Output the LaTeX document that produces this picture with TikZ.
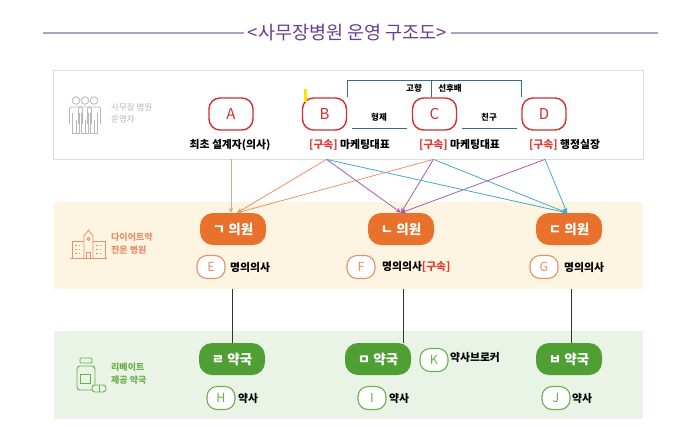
\documentclass[tikz,border=0pt]{standalone}
\usepackage{fontspec}
\setmainfont{Noto Sans CJK KR}
\usetikzlibrary{arrows.meta}

\definecolor{titlepurple}{HTML}{6B3C8F}
\definecolor{titleline}{HTML}{A7A3C9}
\definecolor{memberred}{HTML}{D42F2F}
\definecolor{bondred}{HTML}{E53935}
\definecolor{boxgray}{HTML}{DCDCDC}
\definecolor{icongray}{HTML}{B8B8B8}
\definecolor{tieblue}{HTML}{2F6F8F}
\definecolor{clinicband}{HTML}{FEF4E2}
\definecolor{clinicorange}{HTML}{E8712B}
\definecolor{clinicsoft}{HTML}{E2926A}
\definecolor{pharmband}{HTML}{EAF4E6}
\definecolor{pharmgreen}{HTML}{4F9F35}
\definecolor{pharmsoft}{HTML}{6AB04C}
\definecolor{feedtan}{HTML}{D9A886}
\definecolor{feedorange}{HTML}{E8946A}
\definecolor{feedpurple}{HTML}{A55BB5}
\definecolor{feedblue}{HTML}{3FA9D3}

\begin{document}
\begin{tikzpicture}[x=1pt,y=-1pt,
  member/.style={draw=memberred, line width=1.4pt, fill=white, rounded corners=11pt,
    minimum width=44pt, minimum height=32pt, inner sep=0pt, text=memberred,
    font=\fontsize{15}{15}\selectfont},
  role/.style={inner sep=2pt, font=\bfseries\fontsize{10.8}{10.8}\selectfont},
  tielab/.style={inner sep=1pt, font=\bfseries\fontsize{8.5}{8.5}\selectfont},
  tie/.style={draw=tieblue, line width=1pt},
  clinic/.style={fill=clinicorange, rounded corners=13pt, minimum width=66pt,
    minimum height=32pt, inner sep=0pt, text=white,
    font=\bfseries\fontsize{13.5}{13.5}\selectfont},
  pharm/.style={clinic, fill=pharmgreen},
  docbadge/.style={draw=clinicsoft, line width=1.1pt, fill=white, rounded corners=10pt,
    minimum width=28pt, minimum height=23pt, inner sep=0pt, text=clinicsoft,
    font=\fontsize{12.5}{12.5}\selectfont},
  pharmbadge/.style={docbadge, draw=pharmsoft, text=pharmsoft},
  staff/.style={inner sep=2pt, anchor=west, font=\bfseries\fontsize{10.8}{10.8}\selectfont},
  bandlab/.style={inner sep=0pt, anchor=west, align=left,
    font=\bfseries\fontsize{9}{13}\selectfont},
  feed/.style={line width=0.8pt, -{Stealth[length=5pt,width=4.5pt]}},
  chain/.style={draw=black!80, line width=1pt}
]
  \useasboundingbox (0,0) rectangle (692,426);

  \node[inner sep=4pt, text=titlepurple, font=\fontsize{18.5}{18.5}\selectfont] (title) at (347.5,33) {<사무장병원 운영 구조도>};
  \draw[titleline, line width=1.5pt] (43,33) -- (title.west);
  \draw[titleline, line width=1.5pt] (title.east) -- (658,33);

  \node[draw=boxgray, line width=0.8pt, fill=white, minimum width=590pt, minimum height=89pt, inner sep=0pt] (owner) at (348,114.5) {};
  \node[fill=clinicband, minimum width=589pt, minimum height=87pt, inner sep=0pt] (clinics) at (348.5,245.5) {};
  \node[fill=pharmband, minimum width=589pt, minimum height=88pt, inner sep=0pt] (pharmacies) at (348.5,375) {};

  \begin{scope}[draw=icongray, line width=0.8pt]
    \foreach \px in {76,85,94} {
      \draw (\px,100.5) circle (3.8pt);
      \draw[rounded corners=2pt] (\px-6.5,124) -- (\px-6.5,107) -- (\px+6.5,107) -- (\px+6.5,124);
      \draw (\px-3.5,113) -- (\px-3.5,133) -- (\px+3.5,133) -- (\px+3.5,113);
      \draw (\px,120) -- (\px,133);
    }
  \end{scope}
  \node[bandlab, text=icongray, font=\fontsize{8.5}{12.5}\selectfont] (ownerlab) at (111,113.5) {사무장 병원\\운영자};

  \begin{scope}[draw=clinicsoft, line width=0.8pt]
    \draw (72,241) rectangle (105,258);
    \draw[fill=clinicband] (84,258) -- (84,236) -- (88.5,230) -- (93,236) -- (93,258);
    \draw (88.5,239) circle (1.5pt);
    \draw (86.5,258) -- (86.5,252) -- (90.5,252) -- (90.5,258);
    \draw (70,258) -- (107,258);
    \foreach \wx in {75,78.5,96,99.5} {
      \foreach \wy in {244.5,248.5,252.5} {
        \fill[clinicsoft] (\wx,\wy) rectangle +(1.8,1.8);
      }
    }
  \end{scope}
  \node[bandlab, text=clinicsoft] (clinicslab) at (111,243.5) {다이어트약\\전문 병원};

  \begin{scope}[draw=pharmsoft, line width=0.9pt]
    \draw[rounded corners=1pt] (80,358) rectangle (92,363);
    \draw[rounded corners=3pt] (77,366) rectangle (95,390);
    \draw (80,374) rectangle (90,383);
    \draw[rounded corners=3pt, fill=pharmband] (92,385) rectangle (106,392);
    \draw (99,385) -- (99,392);
  \end{scope}
  \node[bandlab, text=pharmsoft] (pharmlab) at (111,374) {리베이트\\제공 약국};

  \node[member] (A) at (231,114) {A};
  \node[member] (B) at (324.5,114) {B};
  \node[member] (C) at (434.5,114) {C};
  \node[member] (D) at (544,114) {D};
  \fill[yellow!85!orange] (304,89) rectangle (307,102);

  \node[role] (Alab) at (230,145) {최초 설계자(의사)};
  \node[role, anchor=west] (Blab) at (307,145) {\textcolor{bondred}{[구속]} 마케팅대표};
  \node[role, anchor=west] (Clab) at (417,145) {\textcolor{bondred}{[구속]} 마케팅대표};
  \node[role, anchor=west] (Dlab) at (527,145) {\textcolor{bondred}{[구속]} 행정실장};

  \draw[tie] (B.north east) -- (B.north east |- 0,80) -- (D.north west |- 0,80) -- (D.north west);
  \draw[tie] ([xshift=-3pt]C.north) -- ([xshift=-3pt]C.north |- 0,80);
  \draw[tie] ([xshift=5pt,yshift=2pt]B.south east) -- ([xshift=-5pt,yshift=2pt]C.south west);
  \draw[tie] ([xshift=5pt,yshift=2pt]C.south east) -- ([xshift=-4pt,yshift=2pt]D.south west);
  \node[tielab] (hometown) at (414,88) {고향};
  \node[tielab] (senior) at (450,88) {선후배};
  \node[tielab] (brother) at (379,117) {형제};
  \node[tielab] (friend) at (489,117) {친구};

  \node[clinic] (giyeok) at (233,229) {ㄱ 의원};
  \node[clinic] (nieun) at (401,229) {ㄴ 의원};
  \node[clinic] (digeut) at (569,229) {ㄷ 의원};

  \node[docbadge] (E) at (211,267) {E};
  \node[staff] (Elab) at (228,267) {명의의사};
  \node[docbadge] (F) at (361,267) {F};
  \node[staff] (Flab) at (380,267) {명의의사\textcolor{bondred}{[구속]}};
  \node[docbadge] (G) at (544,267) {G};
  \node[staff] (Glab) at (562,267) {명의의사};

  \node[pharm] (rieul) at (232,359) {ㄹ 약국};
  \node[pharm] (mieum) at (378,359) {ㅁ 약국};
  \node[pharm] (bieup) at (569,359) {ㅂ 약국};

  \node[pharmbadge] (K) at (434,360) {K};
  \node[staff] (Klab) at (448,357) {약사브로커};
  \node[pharmbadge] (H) at (221,398) {H};
  \node[staff] (Hlab) at (236,398) {약사};
  \node[pharmbadge] (I) at (372,398) {I};
  \node[staff] (Ilab) at (387,398) {약사};
  \node[pharmbadge] (J) at (556,398) {J};
  \node[staff] (Jlab) at (570,398) {약사};

  \draw[chain] ([xshift=-1pt]giyeok.south |- clinics.south) -- ([xshift=-1pt]giyeok.south |- rieul.north);
  \draw[chain] ([xshift=2pt]nieun.south |- clinics.south) -- ([xshift=2pt]nieun.south |- mieum.north);
  \draw[chain] ([xshift=2pt]digeut.south |- clinics.south) -- ([xshift=2pt]digeut.south |- bieup.north);

  \draw[feed, feedtan] (A |- owner.south) -- (A |- giyeok.north);
  \draw[feed, feedorange] ([xshift=2pt]B |- owner.south) -- ([xshift=4pt]giyeok.north);
  \draw[feed, feedorange] ([xshift=-1pt]C |- owner.south) -- ([xshift=4pt]giyeok.north);
  \draw[feed, feedpurple] ([xshift=2pt]B |- owner.south) -- (nieun.north);
  \draw[feed, feedpurple] ([xshift=-1pt]C |- owner.south) -- (nieun.north);
  \draw[feed, feedpurple] ([xshift=1pt]D |- owner.south) -- (nieun.north);
  \draw[feed, feedblue] ([xshift=2pt]B |- owner.south) -- ([xshift=-2pt]digeut.north);
  \draw[feed, feedblue] ([xshift=-1pt]C |- owner.south) -- ([xshift=-2pt]digeut.north);
  \draw[feed, feedblue] ([xshift=1pt]D |- owner.south) -- ([xshift=-2pt]digeut.north);
\end{tikzpicture}
\end{document}
